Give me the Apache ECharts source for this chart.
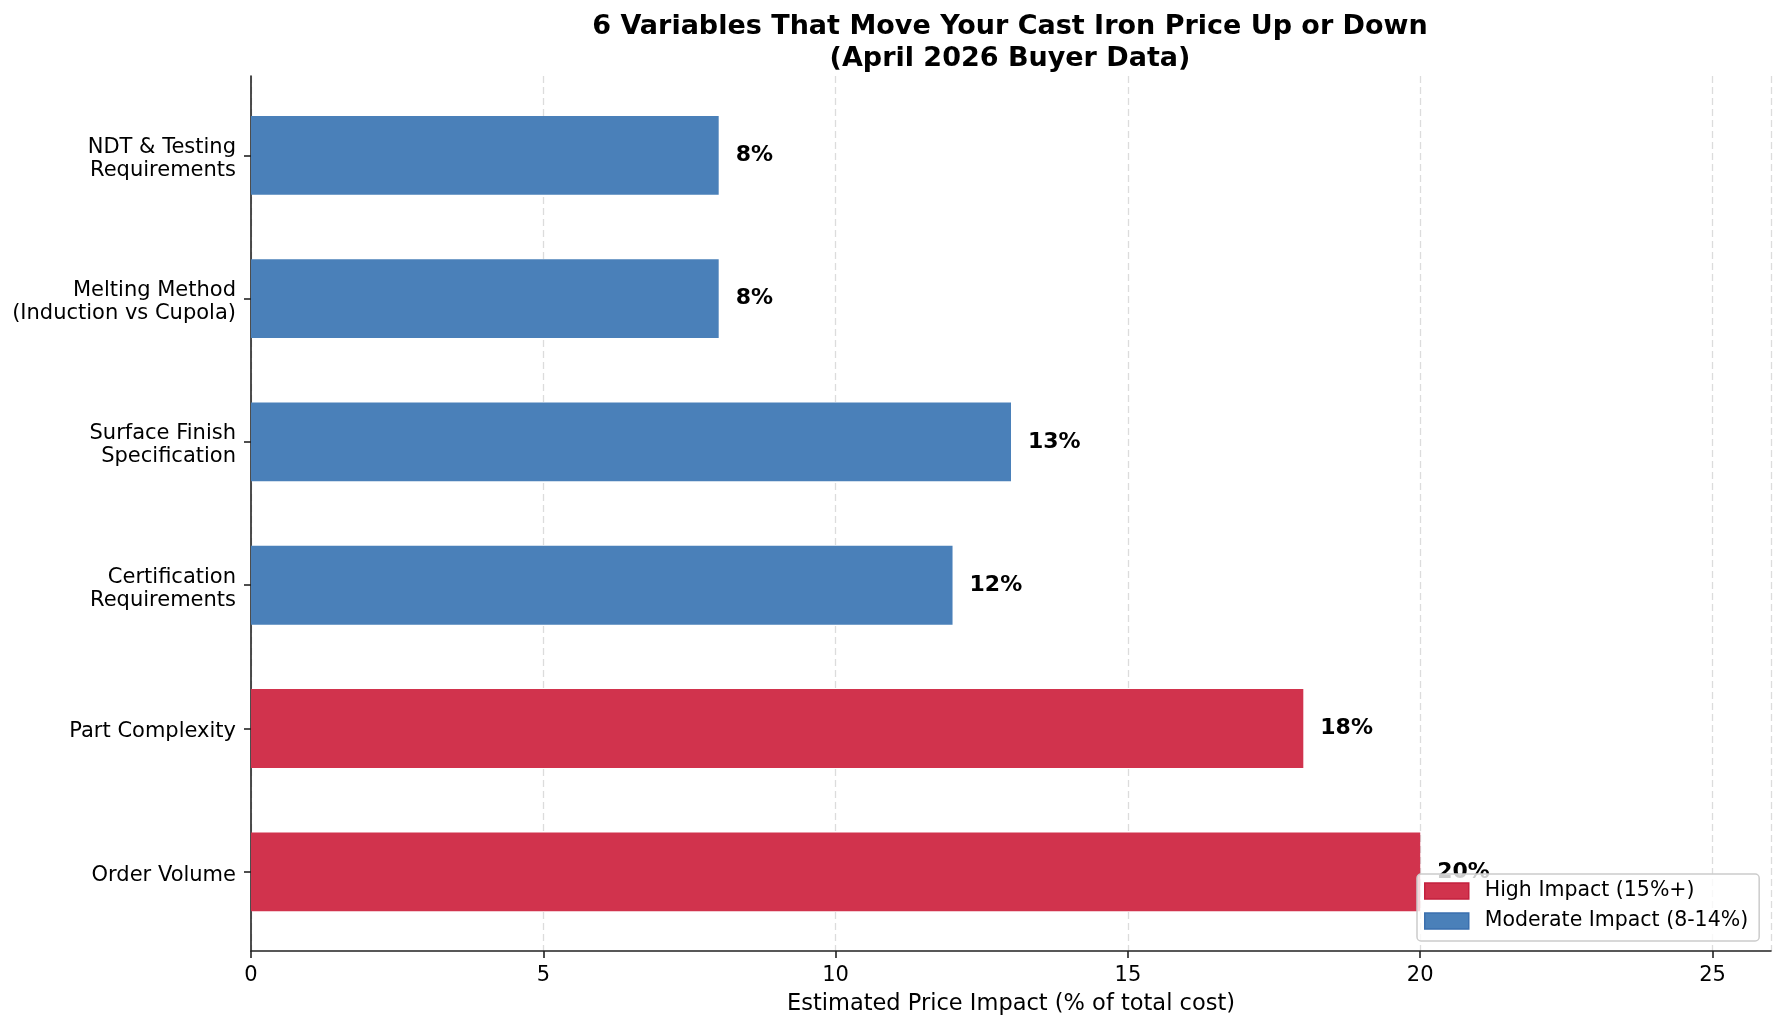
<!DOCTYPE html>
<html>
<head>
<meta charset="utf-8">
<script src="https://cdn.jsdelivr.net/npm/echarts@6/dist/echarts.min.js"></script>
<style>
  html, body { margin: 0; padding: 0; background: #fff; }
  #chart { width: 1784px; height: 1032px; }
</style>
</head>
<body>
<div id="chart"></div>
<script>
// data, bottom to top as drawn
const categories = [
  'Order Volume',
  'Part Complexity',
  'Certification\nRequirements',
  'Surface Finish\nSpecification',
  'Melting Method\n(Induction vs Cupola)',
  'NDT & Testing\nRequirements'
];
const impactValues = [20, 18, 12, 13, 8, 8];
const impactGroups = ['high', 'high', 'moderate', 'moderate', 'moderate', 'moderate'];
const groupNames = { high: 'High Impact (15%+)', moderate: 'Moderate Impact (8-14%)' };
const xTickStep = 5;
const xMax = 26;

const FONT = 'DejaVu Sans';
const colors = { high: '#d1334d', moderate: '#4a80b9' };
const edges = { high: '#c4203e', moderate: '#3a6fae' };

const chart = echarts.init(document.getElementById('chart'));

// one bar series per group, '-' where the bar belongs to the other group
const makeSeries = (group) => ({
  name: groupNames[group],
  type: 'bar',
  xAxisIndex: 1,
  yAxisIndex: 1,
  stack: 'impact',
  barWidth: '55%',
  data: impactValues.map((v, i) => (impactGroups[i] === group ? v : '-')),
  itemStyle: { color: colors[group] },
  label: {
    show: true,
    position: 'right',
    distance: 17,
    formatter: '{c}%',
    fontFamily: FONT,
    fontWeight: 'bold',
    fontSize: 22,
    color: '#000',
    padding: [4, 0, 0, 0]
  },
  emphasis: { disabled: true }
});

chart.setOption({
  animation: false,
  backgroundColor: '#fff',
  title: {
    text: '6 Variables That Move Your Cast Iron Price Up or Down\n(April 2026 Buyer Data)',
    left: 1010,
    top: 11,
    textAlign: 'center',
    padding: 0,
    textStyle: {
      fontFamily: FONT,
      fontWeight: 'bold',
      fontSize: 27,
      lineHeight: 32,
      color: '#000'
    }
  },
  legend: {
    orient: 'vertical',
    left: 1417,
    top: 874,
    padding: [6, 11, 9, 7],
    itemWidth: 44,
    itemHeight: 16,
    itemGap: 8,
    backgroundColor: 'rgba(255,255,255,0.8)',
    borderColor: '#cccccc',
    borderWidth: 1.5,
    borderRadius: 4,
    textStyle: { fontFamily: FONT, fontSize: 20.5, lineHeight: 22, color: '#000', padding: [0, 0, 0, 11] },
    data: ['high', 'moderate'].map(g => ({
      name: groupNames[g],
      icon: 'rect',
      itemStyle: { color: colors[g], borderColor: edges[g], borderWidth: 1.5 }
    }))
  },
  grid: [
    // frame: spines, x ticks and grid lines
    { left: 251, right: 13, top: 76, height: 875 },
    // bars: category bands
    { left: 251, right: 13, top: 83.75, height: 859.7 }
  ],
  xAxis: [
    {
      gridIndex: 0,
      type: 'value',
      min: 0,
      max: xMax,
      interval: xTickStep,
      name: 'Estimated Price Impact (% of total cost)',
      nameLocation: 'middle',
      nameGap: 42,
      nameTextStyle: { fontFamily: FONT, fontSize: 22.5, color: '#000' },
      axisLine: { show: true, lineStyle: { color: '#222', width: 1.6 } },
      axisTick: { show: true, length: 7, lineStyle: { color: '#222', width: 1.6 } },
      axisLabel: { margin: 14, fontFamily: FONT, fontSize: 21, color: '#000', showMaxLabel: false },
      splitLine: { show: true, lineStyle: { color: '#dcdcdc', type: [7, 4], width: 1.3 } }
    },
    {
      gridIndex: 1,
      type: 'value',
      min: 0,
      max: xMax,
      show: false
    }
  ],
  yAxis: [
    {
      gridIndex: 0,
      type: 'value',
      min: 0,
      max: 1,
      axisLine: { show: true, lineStyle: { color: '#222', width: 1.6 } },
      axisTick: { show: false },
      axisLabel: { show: false },
      splitLine: { show: false }
    },
    {
      gridIndex: 1,
      type: 'category',
      data: categories,
      axisLine: { show: false },
      axisTick: { show: true, alignWithLabel: true, length: 7, lineStyle: { color: '#222', width: 1.6 } },
      axisLabel: {
        margin: 15, color: '#000', align: 'right',
        // matplotlib sets its multi-line labels a touch lower than the tick
        formatter: v => v.split('\n').map(s => '{l|' + s + '}').join('\n'),
        rich: {
          l: { fontFamily: FONT, fontSize: 21, lineHeight: 23, color: '#000', padding: [7, 0, 0, 0] }
        }
      },
      splitLine: { show: false }
    }
  ],
  series: [makeSeries('high'), makeSeries('moderate')]
});
</script>
</body>
</html>
